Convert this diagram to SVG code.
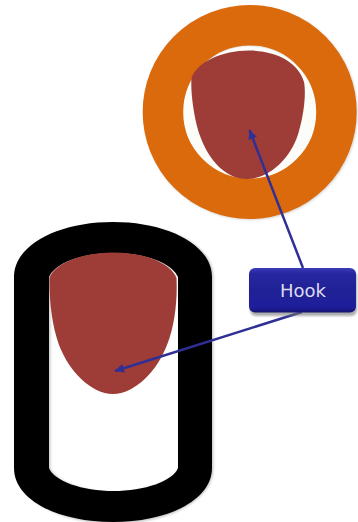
<svg xmlns="http://www.w3.org/2000/svg" width="358" height="522" viewBox="0 0 358 522">
<style>
.hook{fill:#9e3d37}
.conn{fill:none;stroke:#2f2f96;stroke-width:2.500;marker-end:url(#arrow)}
.label{font-family:"DejaVu Sans",sans-serif;font-size:18px;fill:#dcdcf0;text-anchor:middle}
</style>
<defs>
<marker id="arrow" markerUnits="userSpaceOnUse" markerWidth="10" markerHeight="10" refX="9" refY="4.500" orient="auto"><path d="M0 0L9 4.500L0 9Z" fill="#2f2f96"/></marker>
<linearGradient id="btn" x1="0" y1="0" x2="0" y2="1"><stop offset="0" stop-color="#3c3cb8"/><stop offset=".12" stop-color="#2626a0"/><stop offset=".5" stop-color="#212196"/><stop offset=".88" stop-color="#1e1e9c"/><stop offset="1" stop-color="#14146e"/></linearGradient>
<filter id="sh" x="-20%" y="-20%" width="140%" height="150%"><feGaussianBlur stdDeviation="1.200"/></filter>
</defs>
<g id="ring">
<circle cx="250.700" cy="113" r="86.750" fill="none" stroke="#999" stroke-opacity=".4" stroke-width="40.500" filter="url(#sh)"/>
<circle cx="249.300" cy="113" r="66.500" fill="#fcfcf8"/>
<circle cx="249.700" cy="112" r="86.750" fill="none" stroke="#db6a0c" stroke-width="40.500"/>
<path class="hook" d="M191.500 78C197 62 222 50.500 249 50.500C277 50.500 299 63 304 82C306 92 304.500 112 299 131C293 155 271 179 247 179C223 179 206 156 198 130C193 112 190.500 90 191.500 78Z"/>
</g>
<g id="capsule">
<path fill="#888" opacity=".45" filter="url(#sh)" fill-rule="evenodd" d="M15.500 277C15.500 245 59 223.500 114.500 223.500C170 223.500 213.500 245 213.500 277V468C213.500 500 170 523.500 114.500 523.500C59 523.500 15.500 500 15.500 468Z M50.500 277V468C55 481 84 492 115 492C146 492 174 481 179 468V277C174 263 146 254 115 254C84 254 56 263 50.500 277Z"/>
<path fill="#000" fill-rule="evenodd" d="M14 277C14 245 58 222 113 222C168 222 212 245 212 277V468C212 500 168 522 113 522C58 522 14 500 14 468Z M49 277V468C54 481 82 491 113.500 491C145 491 173 481 178 468V277C172 263 145 253 113.500 253C82 253 55 263 49 277Z"/>
<path class="hook" d="M49.500 278C55 263 82 252.500 113.500 252.500C145 252.500 171 263 176.500 278C177.500 300 175 325 167 345C157 371 135 394 113 394C91 394 69 371 59 345C52 325 49 300 49.500 278Z"/>
</g>
<g id="connectors">
<path class="conn" d="M303 268L249.500 130"/>
<path class="conn" d="M302 312L115 371"/>
</g>
<g id="hook-label">
<rect x="250" y="271" width="107" height="45" rx="6" fill="#777" opacity=".6" filter="url(#sh)"/>
<rect x="249" y="268" width="107" height="44.500" rx="6" fill="url(#btn)"/>
<text class="label" x="303" y="297">Hook</text>
</g>
</svg>
